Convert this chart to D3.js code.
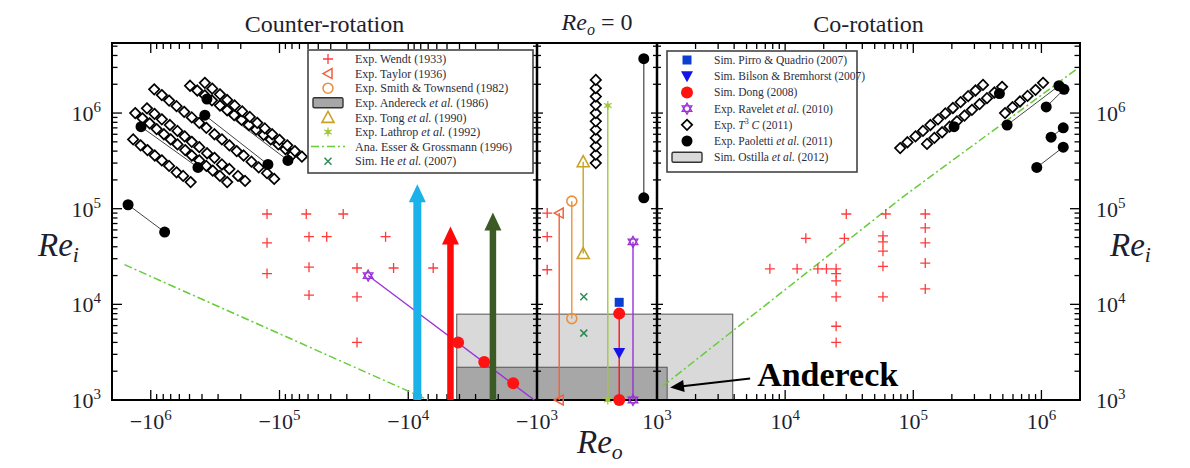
<!DOCTYPE html>
<html>
<head>
<meta charset="utf-8">
<script src="https://cdn.jsdelivr.net/npm/d3@7"></script>
<style>
  body { margin: 0; background: #fff; }
  svg { display: block; }
  text { font-family: "Liberation Serif", "Times New Roman", serif; }
</style>
</head>
<body>
<div id="chart"></div>
<script>
// page size and plot frame
const width = 1190, height = 468;
const frameTop = 43, frameBottom = 400, frameLeft = 112, frameRight = 1080;
const sepLeft = 537, sepRight = 657;

// ---------------- data (Re_o, Re_i) ----------------
const wendtLeft = [[-1.25e5, 8.8e4], [-6.2e4, 8.8e4], [-3.2e4, 8.8e4], [-1.25e5, 4.4e4], [-5.9e4, 5.1e4],
  [-4.3e4, 5.1e4], [-1.5e4, 5.1e4], [-1.25e5, 2.1e4], [-5.9e4, 2.45e4], [-2.5e4, 2.4e4], [-1.3e4, 2.4e4],
  [-6.4e3, 2.4e4], [-5.9e4, 1.25e4], [-2.5e4, 1.2e4], [-2.5e4, 4e3]];
const wendtRight = [[3.0e4, 8.8e4], [6.1e4, 8.8e4], [1.24e5, 8.8e4], [1.45e4, 4.9e4], [2.9e4, 4.9e4],
  [5.8e4, 5.2e4], [5.8e4, 4.5e4], [5.8e4, 3.6e4], [1.24e5, 6.3e4], [1.24e5, 4.4e4], [1.24e5, 2.7e4],
  [1.24e5, 1.45e4], [7.6e3, 2.35e4], [1.24e4, 2.35e4], [1.8e4, 2.35e4], [2.1e4, 2.35e4], [2.5e4, 2.35e4],
  [2.5e4, 2.1e4], [2.5e4, 1.76e4], [2.5e4, 1.2e4], [2.5e4, 5.9e3], [2.5e4, 4e3], [5.8e4, 2.5e4], [5.8e4, 1.2e4]];

const dongLeft = [[-4.1e3, 4e3], [-2.57e3, 2.5e3], [-1.53e3, 1.5e3]];
const raveletLeft = [[-2.05e4, 2e4], [-1.05e3, 1e3]];

const esserLeft = [[-1.6e6, 2.6e4], [-7.0e3, 1e3]];
const esserRight = [[1.11e3, 1.4e3], [8.3e4, 1.33e5], [1.9e6, 2.9e6]];

// boxes: [Re_o from, Re_o to, Re_i from, Re_i to]
const ostillaBox = [-4.2e3, 3.9e3, 1e3, 7.9e3];
const andereckBox = [-4.2e3, 1.2e3, 1e3, 2.2e3];

// unstable-region arrows (Re_o, top Re_i)
const arrowRe = [-8.5e3, -4.7e3, -2.2e3];
const arrowTop = [1.8e5, 6.5e4, 9.1e4];
const arrowColors = ["#1bb1e9", "#ff0a0a", "#3b5a24"];

const paolettiLeft = [
  [[-1.5e6, 1.1e5], [-7.8e5, 5.7e4]],
  [[-1.19e6, 7.2e5], [-4.3e5, 2.7e5]],
  [[-3.8e5, 9.5e5], [-1.23e5, 2.9e5]],
  [[-3.66e5, 1.4e6], [-8.6e4, 3.2e5]]
];
const paolettiRight = [
  [[2.08e5, 7.2e5], [4.7e5, 1.6e6]],
  [[5.4e5, 7.5e5], [1.37e6, 1.93e6]],
  [[1.09e6, 1.16e6], [1.5e6, 1.77e6]],
  [[1.19e6, 5.6e5], [1.48e6, 7.0e5]],
  [[9.2e5, 2.7e5], [1.48e6, 4.4e5]]
];

const t3cLeft = [
  [-1.37e6, 5.3e5], [-1.20e6, 4.6e5], [-1.06e6, 4.1e5], [-9.3e5, 3.6e5], [-8.2e5, 3.2e5], [-7.2e5, 2.8e5],
  [-6.3e5, 2.4e5], [-5.6e5, 2.2e5], [-4.9e5, 1.9e5],
  [-1.32e6, 1.0e6], [-1.16e6, 8.8e5], [-1.02e6, 7.8e5], [-9.0e5, 6.8e5], [-7.9e5, 6.0e5], [-7.0e5, 5.3e5],
  [-6.2e5, 4.7e5], [-5.4e5, 4.1e5], [-4.8e5, 3.6e5], [-4.2e5, 3.2e5], [-3.7e5, 2.8e5], [-3.3e5, 2.5e5],
  [-2.9e5, 2.2e5], [-2.55e5, 1.9e5],
  [-1.07e6, 1.12e6], [-9.35e5, 9.8e5], [-8.2e5, 8.6e5], [-7.1e5, 7.5e5], [-6.2e5, 6.5e5], [-5.45e5, 5.7e5],
  [-4.8e5, 5.0e5], [-4.2e5, 4.4e5], [-3.65e5, 3.8e5], [-3.2e5, 3.4e5], [-2.8e5, 2.9e5], [-2.45e5, 2.6e5],
  [-2.1e5, 2.2e5], [-1.85e5, 1.95e5],
  [-9.4e5, 1.77e6], [-8.2e5, 1.54e6], [-7.2e5, 1.35e6], [-6.3e5, 1.18e6], [-5.5e5, 1.03e6], [-4.8e5, 9.0e5],
  [-4.2e5, 7.9e5], [-3.7e5, 7.0e5], [-3.2e5, 6.0e5], [-2.8e5, 5.3e5], [-2.45e5, 4.6e5], [-2.15e5, 4.0e5],
  [-1.9e5, 3.6e5], [-1.65e5, 3.1e5], [-1.45e5, 2.7e5], [-1.25e5, 2.35e5], [-1.1e5, 2.05e5],
  [-4.95e5, 1.93e6], [-4.35e5, 1.72e6], [-3.8e5, 1.53e6], [-3.35e5, 1.36e6], [-2.9e5, 1.2e6], [-2.55e5, 1.07e6],
  [-2.25e5, 9.5e5], [-1.97e5, 8.5e5], [-1.73e5, 7.5e5], [-1.52e5, 6.7e5], [-1.33e5, 5.9e5], [-1.17e5, 5.3e5],
  [-1.02e5, 4.7e5], [-9.0e4, 4.2e5], [-7.9e4, 3.7e5],
  [-3.8e5, 2.07e6], [-3.33e5, 1.8e6], [-2.9e5, 1.57e6], [-2.55e5, 1.37e6], [-2.23e5, 1.2e6], [-1.95e5, 1.04e6],
  [-1.7e5, 9.1e5], [-1.49e5, 7.9e5], [-1.3e5, 6.9e5], [-1.14e5, 6.0e5], [-1.0e5, 5.25e5], [-8.7e4, 4.6e5],
  [-7.6e4, 4.0e5], [-6.7e4, 3.5e5]
];
const t3cRight = [
  [7.9e4, 4.3e5], [9.0e4, 4.95e5], [1.04e5, 5.7e5], [1.19e5, 6.5e5], [1.36e5, 7.5e5], [1.56e5, 8.6e5],
  [1.78e5, 9.9e5], [2.04e5, 1.13e6], [2.34e5, 1.3e6], [2.68e5, 1.5e6], [3.06e5, 1.72e6], [3.5e5, 1.97e6],
  [1.28e5, 4.76e5], [1.46e5, 5.5e5], [1.68e5, 6.3e5], [1.92e5, 7.2e5], [2.19e5, 8.2e5], [2.51e5, 9.4e5],
  [2.87e5, 1.08e6], [3.29e5, 1.24e6], [3.76e5, 1.43e6], [4.3e5, 1.64e6], [4.93e5, 1.88e6],
  [5.2e5, 1.0e6], [5.95e5, 1.15e6], [6.8e5, 1.32e6], [7.8e5, 1.51e6], [9.0e5, 1.75e6], [1.03e6, 2.07e6]
];

// Re_o = 0 strip: every column sits at Re_o = 0, spread over slots 0..10
const midColumns = [
  // series, slot, Re_i top, Re_i bottom
  ["taylor", 1.85, 9e4, 1e3],
  ["smith", 2.9, 1.2e5, 7.1e3],
  ["tong", 3.85, 3.1e5, 3.4e4],
  ["lathrop", 5.9, 1.2e6, 1e3],
  ["dong", 6.85, 8e3, 1e3],
  ["ravelet", 8.0, 4.5e4, 1e3],
  ["paoletti", 8.9, 3.7e6, 1.3e5]
];
const wendtMid = [9e4, 5.1e4, 2.3e4];          // slot 0.85
const heMid = [1.2e4, 5e3];                     // slot 3.9
const pirroMid = [1.05e4];                      // slot 6.85
const bilsonMid = [3.1e3];                      // slot 6.85
const t3cMid = [3.0e5, 3.67e5, 4.5e5, 5.5e5, 6.7e5, 8.2e5, 1.0e6, 1.22e6, 1.49e6, 1.82e6, 2.22e6]; // slot 4.9

const legend1 = [
  ["wendt", "Exp. Wendt (1933)"],
  ["taylor", "Exp. Taylor (1936)"],
  ["smith", "Exp. Smith & Townsend (1982)"],
  ["andereck", "Exp. Andereck |et al.| (1986)"],
  ["tong", "Exp. Tong |et al.| (1990)"],
  ["lathrop", "Exp. Lathrop |et al.| (1992)"],
  ["esser", "Ana. Esser & Grossmann (1996)"],
  ["he", "Sim. He |et al.| (2007)"]
];
const legend2 = [
  ["pirro", "Sim. Pirro & Quadrio (2007)"],
  ["bilson", "Sim. Bilson & Bremhorst (2007)"],
  ["dong", "Sim. Dong (2008)"],
  ["ravelet", "Exp. Ravelet |et al.| (2010)"],
  ["t3c", "Exp. |T|^3 |C| (2011)"],
  ["paoletti", "Exp. Paoletti |et al.| (2011)"],
  ["ostilla", "Sim. Ostilla |et al.| (2012)"]
];

// ---------------- styles ----------------
const shapes = {
  plus: "M-5,0H5M0,-5V5",
  cross: "M-3.5,-3.5L3.5,3.5M-3.5,3.5L3.5,-3.5",
  triLeft: "M-5,0L4,-5L4,5Z",
  triUp: "M0,-6L6,5H-6Z",
  triDown: "M-6,-5H6L0,6Z",
  diamond: "M0,-5.2L5.2,0L0,5.2L-5.2,0Z",
  square: "M-4.5,-4.5H4.5V4.5H-4.5Z",
  hexagram: "M0,-5.5L4.8,2.75H-4.8ZM0,5.5L4.8,-2.75H-4.8Z"
};
const styles = {
  wendt: {shape: "plus", stroke: "#ff3b3b", fill: "none", sw: 1.3},
  taylor: {shape: "triLeft", stroke: "#f2623a", fill: "none", sw: 1.5},
  smith: {shape: "circle", r: 5, stroke: "#e8923e", fill: "none", sw: 1.6},
  tong: {shape: "triUp", stroke: "#c9a227", fill: "none", sw: 1.6},
  lathrop: {shape: "star", stroke: "#9fc93a", fill: "#9fc93a", sw: 1.2},
  he: {shape: "cross", stroke: "#2e8b57", fill: "none", sw: 1.5},
  pirro: {shape: "square", stroke: "none", fill: "#0b3fd2", sw: 0},
  bilson: {shape: "triDown", stroke: "none", fill: "#1414ea", sw: 0},
  dong: {shape: "circle", r: 6, stroke: "none", fill: "#ff1212", sw: 0},
  ravelet: {shape: "hexagram", stroke: "#9b30d9", fill: "none", sw: 1.3},
  t3c: {shape: "diamond", stroke: "#000", fill: "#fff", sw: 1.7},
  paoletti: {shape: "circle", r: 5.5, stroke: "none", fill: "#000", sw: 0}
};
const lineColors = {taylor: "#f2623a", smith: "#e8923e", tong: "#c9a227", lathrop: "#9fc93a",
  dong: "#ff1212", ravelet: "#9b30d9", paoletti: "#444"};
const esserColor = "#66cc3a";

// ---------------- scales ----------------
const xLeft = d3.scaleLog().domain([2e6, 1e3]).range([frameLeft, sepLeft]);   // |Re_o|, counter-rotation
const xRight = d3.scaleLog().domain([1e3, 2e6]).range([sepRight, frameRight]);
const xMid = d3.scaleLinear().domain([0, 10]).range([sepLeft, sepRight]);
const y = d3.scaleLog().domain([1e3, 5.4e6]).range([frameBottom, frameTop]);
const xPos = re => re < 0 ? xLeft(-re) : xRight(re);

const svg = d3.select("#chart").append("svg")
  .attr("width", width).attr("height", height)
  .attr("viewBox", [0, 0, width, height]);

function marker(sel, key) {
  const s = styles[key];
  let d;
  if (s.shape === "circle") d = d3.symbol(d3.symbolCircle, Math.PI * s.r * s.r)();
  else if (s.shape === "star") d = d3.symbol(d3.symbolAsterisk, 55)();
  else d = shapes[s.shape];
  sel.append("path").attr("d", d)
    .attr("fill", s.fill).attr("stroke", s.stroke).attr("stroke-width", s.sw);
  if (s.shape === "star") sel.append("circle").attr("r", 2.3).attr("fill", s.fill);
}
function drawPoints(g, key, pts, fx, fy) {
  g.selectAll(null).data(pts).join("g")
    .attr("transform", d => `translate(${fx(d)},${fy(d)})`)
    .each(function() { marker(d3.select(this), key); });
}

// ---------------- boxes ----------------
const gBox = svg.append("g");
[[ostillaBox, "#d9d9d9"], [andereckBox, "#a7a7a7"]].forEach(([b, c]) => {
  gBox.append("rect")
    .attr("x", xPos(b[0])).attr("width", xPos(b[1]) - xPos(b[0]))
    .attr("y", y(b[3])).attr("height", y(b[2]) - y(b[3]))
    .attr("fill", c).attr("stroke", "#555").attr("stroke-width", 1);
});

// ---------------- axes ----------------
const gAx = svg.append("g").attr("stroke", "#000").attr("fill", "none");
const isMajor = v => Math.abs(Math.log10(v) - Math.round(Math.log10(v))) < 1e-6;

y.ticks().forEach(v => {
  const yy = y(v), M = isMajor(v);
  const L = M ? 10 : 5.5, S = M ? 6 : 4;
  gAx.append("line").attr("x1", frameLeft).attr("x2", frameLeft + L).attr("y1", yy).attr("y2", yy).attr("stroke-width", 1.3);
  gAx.append("line").attr("x1", frameRight).attr("x2", frameRight - L).attr("y1", yy).attr("y2", yy).attr("stroke-width", 1.3);
  [sepLeft, sepRight].forEach(sx => {
    gAx.append("line").attr("x1", sx - S).attr("x2", sx + S).attr("y1", yy).attr("y2", yy).attr("stroke-width", 1.3);
  });
});
[xLeft, xRight].forEach(sc => {
  sc.ticks().forEach(v => {
    const xx = sc(v), L = isMajor(v) ? 10 : 6;
    gAx.append("line").attr("x1", xx).attr("x2", xx).attr("y1", frameBottom).attr("y2", frameBottom - L).attr("stroke-width", 1.3);
    gAx.append("line").attr("x1", xx).attr("x2", xx).attr("y1", frameTop).attr("y2", frameTop + L).attr("stroke-width", 1.3);
  });
});
gAx.append("rect").attr("x", frameLeft).attr("y", frameTop)
  .attr("width", frameRight - frameLeft).attr("height", frameBottom - frameTop).attr("stroke-width", 2);
[sepLeft, sepRight].forEach(sx => {
  gAx.append("line").attr("x1", sx).attr("x2", sx).attr("y1", frameTop).attr("y2", frameBottom).attr("stroke-width", 2.5);
});

// tick labels
function powLabel(t, exp, neg) {
  t.append("tspan").text((neg ? "\u2212" : "") + "10");
  t.append("tspan").attr("dy", -9).attr("font-size", 15).text(exp);
}
const gLab = svg.append("g").attr("fill", "#1e1e2e").attr("font-size", 22);
[1e3, 1e4, 1e5, 1e6].forEach(v => {
  const e = Math.round(Math.log10(v));
  powLabel(gLab.append("text").attr("x", 101).attr("y", y(v) + 8).attr("text-anchor", "end"), e);
  powLabel(gLab.append("text").attr("x", 1096).attr("y", y(v) + 8), e);
  powLabel(gLab.append("text").attr("x", xLeft(v)).attr("y", 429).attr("text-anchor", "middle"), e, true);
  powLabel(gLab.append("text").attr("x", xRight(v)).attr("y", 429).attr("text-anchor", "middle"), e);
});

// axis titles
function reLabel(x, yy, sub, size) {
  const t = svg.append("text").attr("x", x).attr("y", yy).attr("font-size", size).attr("fill", "#1e1e2e");
  t.append("tspan").attr("font-style", "italic").text("Re");
  t.append("tspan").attr("font-style", "italic").attr("font-size", size * 0.66).attr("dy", size * 0.18).text(sub);
  return t;
}
reLabel(38, 256, "i", 33);
reLabel(1110, 256, "i", 33);
reLabel(577, 453, "o", 33);

const gTitle = svg.append("g").attr("font-size", 24).attr("fill", "#1e1e2e").attr("text-anchor", "middle");
gTitle.append("text").attr("x", (frameLeft + sepLeft) / 2).attr("y", 32).text("Counter-rotation");
gTitle.append("text").attr("x", (sepRight + frameRight) / 2).attr("y", 32).text("Co-rotation");
const t0 = gTitle.append("text").attr("x", (sepLeft + sepRight) / 2).attr("y", 30);
t0.append("tspan").attr("font-style", "italic").text("Re");
t0.append("tspan").attr("font-style", "italic").attr("font-size", 16).attr("dy", 5).text("o");
t0.append("tspan").attr("dy", -5).text(" = 0");

// ---------------- lines ----------------
const gLines = svg.append("g").attr("fill", "none");
const lineGen = d3.line().x(d => xPos(d[0])).y(d => y(d[1]));
gLines.append("path").datum(esserLeft).attr("d", lineGen)
  .attr("stroke", esserColor).attr("stroke-width", 1.5).attr("stroke-dasharray", "8,3,2,3");
gLines.append("path").datum(esserRight).attr("d", lineGen)
  .attr("stroke", esserColor).attr("stroke-width", 1.5).attr("stroke-dasharray", "8,3,2,3");
gLines.append("path").datum(raveletLeft).attr("d", lineGen)
  .attr("stroke", lineColors.ravelet).attr("stroke-width", 1.3);
gLines.selectAll(null).data(paolettiLeft.concat(paolettiRight)).join("path")
  .attr("d", lineGen).attr("stroke", "#444").attr("stroke-width", 1);
midColumns.forEach(([key, slot, hi, lo]) => {
  gLines.append("line").attr("x1", xMid(slot)).attr("x2", xMid(slot))
    .attr("y1", y(hi)).attr("y2", y(lo))
    .attr("stroke", lineColors[key]).attr("stroke-width", key === "paoletti" ? 1.2 : 1.4);
});

// ---------------- arrows ----------------
const gArr = svg.append("g");
arrowRe.forEach((re, i) => {
  const x = xPos(re), yt = y(arrowTop[i]), yb = y(1e3);
  const w = i === 0 ? 8 : 6.5, hw = 8.5, hh = 18;
  gArr.append("path")
    .attr("d", `M${x - w / 2},${yb}V${yt + hh}H${x - hw}L${x},${yt}L${x + hw},${yt + hh}H${x + w / 2}V${yb}Z`)
    .attr("fill", arrowColors[i]);
});

// ---------------- markers ----------------
const gPts = svg.append("g");
const px = d => xPos(d[0]), py = d => y(d[1]);
drawPoints(gPts, "wendt", wendtLeft, px, py);
drawPoints(gPts, "wendt", wendtRight, px, py);
drawPoints(gPts, "t3c", t3cLeft, px, py);
drawPoints(gPts, "t3c", t3cRight, px, py);
drawPoints(gPts, "paoletti", paolettiLeft.flat(), px, py);
drawPoints(gPts, "paoletti", paolettiRight.flat(), px, py);
drawPoints(gPts, "dong", dongLeft, px, py);
drawPoints(gPts, "ravelet", raveletLeft.slice(0, 1), px, py);

const col = slot => () => xMid(slot);
drawPoints(gPts, "wendt", wendtMid, col(0.85), d => y(d));
drawPoints(gPts, "he", heMid, col(3.9), d => y(d));
drawPoints(gPts, "t3c", t3cMid, col(4.9), d => y(d));
midColumns.forEach(([key, slot, hi, lo]) => drawPoints(gPts, key, [hi, lo], col(slot), d => y(d)));
drawPoints(gPts, "pirro", pirroMid, col(6.85), d => y(d));
drawPoints(gPts, "bilson", bilsonMid, col(6.85), d => y(d));

// ---------------- legends ----------------
function legend(entries, x0, y0, w, h, step, fs) {
  const g = svg.append("g").attr("transform", `translate(${x0},${y0})`);
  g.append("rect").attr("width", w).attr("height", h).attr("fill", "#fff").attr("stroke", "#444").attr("stroke-width", 1.6);
  entries.forEach(([key, label], i) => {
    const cy = 9 + i * step;
    const s = g.append("g").attr("transform", `translate(20,${cy})`);
    if (key === "andereck" || key === "ostilla") {
      s.append("rect").attr("x", -15).attr("y", -5).attr("width", 30).attr("height", 10).attr("rx", 1.5)
        .attr("fill", key === "andereck" ? "#a7a7a7" : "#d9d9d9").attr("stroke", "#333").attr("stroke-width", 1.4);
    } else if (key === "esser") {
      s.append("line").attr("x1", -17).attr("x2", 17).attr("stroke", esserColor)
        .attr("stroke-width", 1.5).attr("stroke-dasharray", "8,3,2,3");
    } else {
      marker(s, key);
    }
    const t = g.append("text").attr("x", 47).attr("y", cy + fs * 0.35).attr("font-size", fs).attr("fill", "#2d2d40");
    label.split("|").forEach((part, j) => {
      if (part.startsWith("^")) {
        t.append("tspan").attr("dy", -5).attr("font-size", fs * 0.7).text(part[1]);
        t.append("tspan").attr("dy", 5).text(part.slice(2));
      } else {
        t.append("tspan").attr("font-style", j % 2 ? "italic" : null).text(part);
      }
    });
  });
}
legend(legend1, 308, 50, 225, 123, 14.6, 12);
legend(legend2, 667, 51, 190, 121, 16.2, 11.5);

// ---------------- Andereck annotation ----------------
const tipX = xPos(andereckBox[1]) + 3, tipY = y(1.35e3);
svg.append("line").attr("x1", tipX + 80).attr("y1", tipY - 9).attr("x2", tipX + 10).attr("y2", tipY - 1)
  .attr("stroke", "#000").attr("stroke-width", 2);
svg.append("path")
  .attr("d", `M${tipX},${tipY}l13,-7.5l1.5,12z`)
  .attr("fill", "#000");
svg.append("text").attr("x", tipX + 87).attr("y", tipY - 2)
  .attr("font-size", 34).attr("font-weight", "bold").attr("fill", "#000").text("Andereck");
</script>
</body>
</html>
